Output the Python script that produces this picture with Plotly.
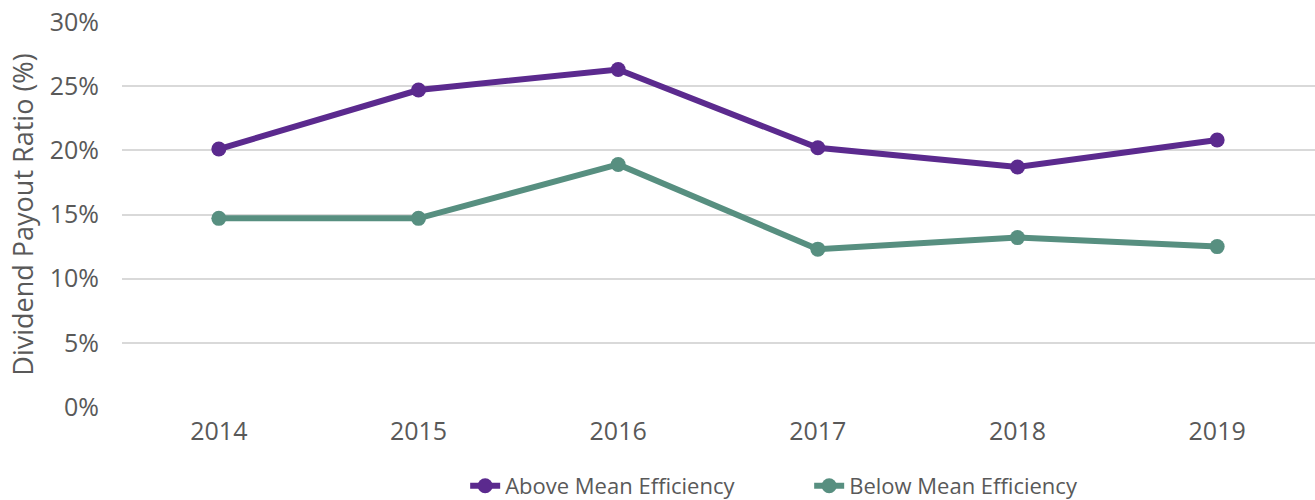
import plotly.graph_objects as go

years = ["2014", "2015", "2016", "2017", "2018", "2019"]
above = [20.1, 24.7, 26.3, 20.2, 18.7, 20.8]
below = [14.7, 14.7, 18.9, 12.3, 13.2, 12.5]
y_ticks = [0, 5, 10, 15, 20, 25, 30]
y_tick_labels = ["0%", "5%", "10%", "15%", "20%", "25%", "30%"]

purple = "#5B2A8E"
green = "#578F80"
grey = "#595959"
font = "Open Sans"

fig = go.Figure()
fig.add_trace(go.Scatter(x=years, y=above, name="Above Mean Efficiency",
                         mode="lines+markers",
                         line=dict(color=purple, width=6),
                         marker=dict(color=purple, size=15)))
fig.add_trace(go.Scatter(x=years, y=below, name="Below Mean Efficiency",
                         mode="lines+markers",
                         line=dict(color=green, width=6),
                         marker=dict(color=green, size=15)))

fig.update_layout(
    width=1315, height=500,
    margin=dict(l=122, r=0, t=22, b=93, autoexpand=False),
    paper_bgcolor="white", plot_bgcolor="white",
    font=dict(family=font, color=grey, size=24),
    showlegend=True,
    legend=dict(orientation="h", x=0.576, xanchor="center",
                yref="container", y=0.028, yanchor="middle",
                font=dict(size=22, color=grey), tracegroupgap=0,
                entrywidth=299, entrywidthmode="pixels"),
    xaxis=dict(type="category", range=[-0.485, 5.49], showgrid=False,
               showline=False, zeroline=False, ticks="", automargin=False,
               ticklabelstandoff=7,
               tickfont=dict(size=25, color=grey)),
    yaxis=dict(range=[0, 30], tickvals=y_ticks, ticktext=y_tick_labels,
               showgrid=True, gridcolor="#D9D9D9", gridwidth=2,
               zeroline=False, showline=False, ticks="", automargin=False,
               ticklabelstandoff=22, ticklabeloverflow="allow",
               tickfont=dict(size=25, color=grey),
               title=dict(text="Dividend Payout Ratio (%)", standoff=8,
                          font=dict(size=27, color=grey))),
)

fig.write_html("out.html", config={"displayModeBar": False},
               post_script="document.body.style.margin='0';")
